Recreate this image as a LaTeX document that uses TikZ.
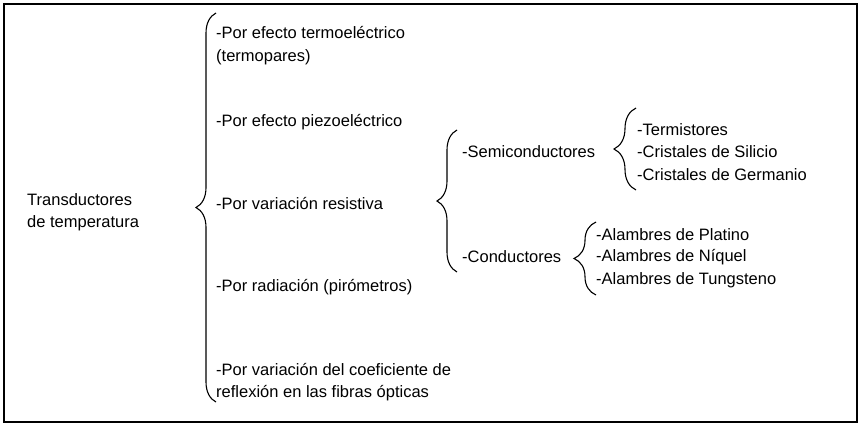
\documentclass[tikz,border=0pt]{standalone}
\usepackage{fontspec}
\setmainfont{Liberation Sans}
\usetikzlibrary{decorations.pathreplacing}

\begin{document}
\begin{tikzpicture}[x=1pt,y=-1pt,
            txt/.style={anchor=west,inner sep=0pt,align=left,font=\fontsize{16.5}{22.5}\selectfont},
            brc/.style={decorate,decoration={brace,amplitude=#1},line width=1.1pt},
            brc/.default=20]
            \useasboundingbox (0,0) rectangle (858,424);
            \draw[line width=1.4pt] (4,4) rectangle (857,422);

            \node (root) at (27,212) [txt] {Transductores\\de temperatura};

            \coordinate (b0s) at (216,402);
            \coordinate (b0e) at (216,13);
            \node (termo) at (216,45.5) [txt] {-Por efecto termoeléctrico\\(termopares)};
            \node (piezo) at (216,122) [txt] {-Por efecto piezoeléctrico};
            \node (resis) at (216,203) [txt] {-Por variación resistiva};
            \node (radia) at (216,287) [txt] {-Por radiación (pirómetros)};
            \node (fibra) at (216,382) [txt] {-Por variación del coeficiente de\\reflexión en las fibras ópticas};

            \coordinate (b1s) at (457,272);
            \coordinate (b1e) at (457,130);
            \node (semi) at (462,152) [txt] {-Semiconductores};
            \node (cond) at (462,257) [txt] {-Conductores};

            \coordinate (b2s) at (636,190);
            \coordinate (b2e) at (636,108);
            \node (termi) at (637,130) [txt] {-Termistores};
            \node (sili) at (637,152) [txt] {-Cristales de Silicio};
            \node (germ) at (637,175) [txt] {-Cristales de Germanio};

            \coordinate (b3s) at (596,295);
            \coordinate (b3e) at (596,222);
            \node (plat) at (596,235) [txt] {-Alambres de Platino};
            \node (niq) at (596,257) [txt] {-Alambres de Níquel};
            \node (tung) at (596,280) [txt] {-Alambres de Tungsteno};

            \draw[brc] (b0s) -- (b0e);
            \draw[brc] (b1s) -- (b1e);
            \draw[brc=22] (b2s) -- (b2e);
            \draw[brc=22] (b3s) -- (b3e);
        \end{tikzpicture}
\end{document}
